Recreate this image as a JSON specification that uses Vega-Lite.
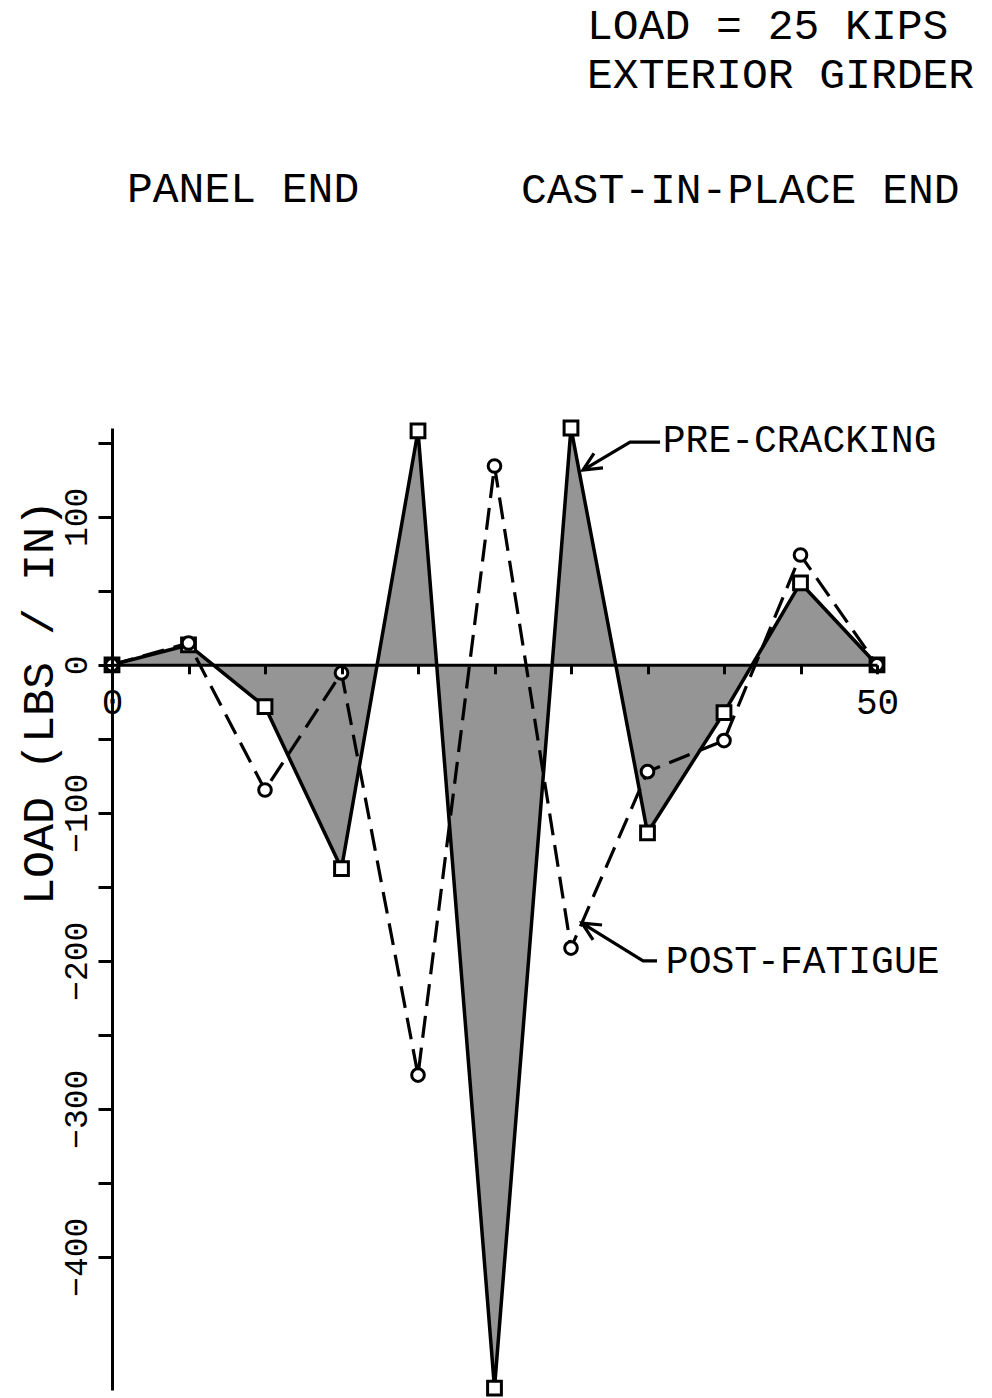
{
  "$schema": "https://vega.github.io/schema/vega-lite/v6.json",
  "width": 765,
  "height": 962,
  "autosize": {"type": "none"},
  "padding": {"left": 112, "top": 428, "right": 115, "bottom": 8},
  "background": "white",
  "config": {"view": {"stroke": null}, "font": "Liberation Mono"},
  "datasets": {
    "load": [
      {"series": "PRE-CRACKING", "x": 0, "y": 0},
      {"series": "PRE-CRACKING", "x": 5, "y": 13.4},
      {"series": "PRE-CRACKING", "x": 10, "y": -28.3},
      {"series": "PRE-CRACKING", "x": 15, "y": -137.7},
      {"series": "PRE-CRACKING", "x": 20, "y": 158},
      {"series": "PRE-CRACKING", "x": 25, "y": -488.7},
      {"series": "PRE-CRACKING", "x": 30, "y": 160},
      {"series": "PRE-CRACKING", "x": 35, "y": -113.5},
      {"series": "PRE-CRACKING", "x": 40, "y": -32.3},
      {"series": "PRE-CRACKING", "x": 45, "y": 55.3},
      {"series": "PRE-CRACKING", "x": 50, "y": 0},
      {"series": "POST-FATIGUE", "x": 0, "y": 0},
      {"series": "POST-FATIGUE", "x": 5, "y": 14.7},
      {"series": "POST-FATIGUE", "x": 10, "y": -84.6},
      {"series": "POST-FATIGUE", "x": 15, "y": -5.5},
      {"series": "POST-FATIGUE", "x": 20, "y": -277.2},
      {"series": "POST-FATIGUE", "x": 25, "y": 134.3},
      {"series": "POST-FATIGUE", "x": 30, "y": -191.4},
      {"series": "POST-FATIGUE", "x": 35, "y": -72.2},
      {"series": "POST-FATIGUE", "x": 40, "y": -51.2},
      {"series": "POST-FATIGUE", "x": 45, "y": 74.2},
      {"series": "POST-FATIGUE", "x": 50, "y": 0}
    ],
    "arrows": [
      {"arrow": "pre", "seq": 1, "x": 35.82, "y": 150.5},
      {"arrow": "pre", "seq": 2, "x": 33.86, "y": 150.5},
      {"arrow": "pre", "seq": 3, "x": 30.78, "y": 131.6},
      {"arrow": "pre", "seq": 4, "x": 32.09, "y": 133.0},
      {"arrow": "pre", "seq": 5, "x": 30.78, "y": 131.6},
      {"arrow": "pre", "seq": 6, "x": 31.5, "y": 142.8},
      {"arrow": "post", "seq": 1, "x": 35.62, "y": -200.1},
      {"arrow": "post", "seq": 2, "x": 34.71, "y": -200.1},
      {"arrow": "post", "seq": 3, "x": 30.72, "y": -174.5},
      {"arrow": "post", "seq": 4, "x": 32.03, "y": -175.8},
      {"arrow": "post", "seq": 5, "x": 30.72, "y": -174.5},
      {"arrow": "post", "seq": 6, "x": 31.44, "y": -185.9}
    ],
    "headers": [
      {"label": "LOAD = 25 KIPS", "x": 31.05, "y": 431.6},
      {"label": "EXTERIOR GIRDER", "x": 31.05, "y": 398.5},
      {"label": "PANEL END", "x": 0.98, "y": 321.5},
      {"label": "CAST-IN-PLACE END", "x": 26.73, "y": 320.8}
    ],
    "notes": [
      {"label": "PRE-CRACKING", "x": 36.0, "y": 151.2},
      {"label": "POST-FATIGUE", "x": 36.2, "y": -200.9}
    ]
  },
  "encoding": {
    "x": {
      "field": "x", "type": "quantitative",
      "scale": {"domain": [0, 50], "nice": false, "zero": false},
      "axis": {
        "title": null,
        "values": [0, 5, 10, 15, 20, 25, 30, 35, 40, 45, 50],
        "labelExpr": "datum.value === 0 || datum.value === 50 ? datum.label : ''",
        "offset": -725.2,
        "grid": false,
        "domainColor": "black", "domainWidth": 3,
        "tickColor": "black", "tickWidth": 3, "tickSize": 9,
        "labelFont": "Liberation Mono", "labelFontSize": 36, "labelColor": "black",
        "labelPadding": 12, "labelBaseline": "top", "labelAlign": "center",
        "labelFlush": false, "labelOverlap": false, "labelBound": false,
        "zindex": 1
      }
    },
    "y": {
      "field": "y", "type": "quantitative",
      "scale": {"domain": [-490, 160], "nice": false, "zero": false},
      "axis": {
        "title": "LOAD  (LBS / IN)",
        "values": [-400, -350, -300, -250, -200, -150, -100, -50, 0, 50, 100, 150],
        "labelExpr": "datum.value % 100 === 0 ? datum.label : ''",
        "grid": false,
        "domainColor": "black", "domainWidth": 3,
        "tickColor": "black", "tickWidth": 3, "tickSize": 14,
        "labelAngle": -90, "labelAlign": "center", "labelBaseline": "alphabetic",
        "labelPadding": 12,
        "labelFont": "Liberation Mono", "labelFontSize": 33, "labelColor": "black",
        "labelOverlap": false, "labelBound": false, "labelFlush": false,
        "titleFont": "Liberation Mono", "titleFontSize": 45, "titleFontWeight": "normal",
        "titleColor": "black", "titleAngle": -90, "titleAlign": "center",
        "titleBaseline": "alphabetic", "titleX": -60, "titleY": 274,
        "zindex": 1
      }
    }
  },
  "layer": [
    {
      "data": {"name": "load"},
      "transform": [{"filter": "datum.series === 'PRE-CRACKING'"}],
      "mark": {"type": "area", "color": "#959595", "opacity": 1}
    },
    {
      "data": {"name": "load"},
      "transform": [{"filter": "datum.series === 'PRE-CRACKING'"}],
      "mark": {"type": "line", "color": "black", "strokeWidth": 3.5}
    },
    {
      "data": {"name": "load"},
      "transform": [{"filter": "datum.series === 'POST-FATIGUE'"}],
      "mark": {"type": "line", "color": "black", "strokeWidth": 3.2, "strokeDash": [22, 10]}
    },
    {
      "data": {"name": "load"},
      "transform": [{"filter": "datum.series === 'PRE-CRACKING'"}],
      "mark": {"type": "point", "shape": "square", "size": 190, "filled": false, "fill": "white", "fillOpacity": 1, "stroke": "black", "strokeWidth": 3, "opacity": 1}
    },
    {
      "data": {"name": "load"},
      "transform": [{"filter": "datum.series === 'POST-FATIGUE'"}],
      "mark": {"type": "point", "shape": "circle", "size": 160, "filled": false, "fill": "white", "fillOpacity": 1, "stroke": "black", "strokeWidth": 3, "opacity": 1}
    },
    {
      "data": {"name": "arrows"},
      "mark": {"type": "line", "color": "black", "strokeWidth": 3.2, "strokeJoin": "miter"},
      "encoding": {
        "detail": {"field": "arrow"},
        "order": {"field": "seq", "type": "quantitative"}
      }
    },
    {
      "data": {"name": "headers"},
      "mark": {"type": "text", "align": "left", "baseline": "middle", "font": "Liberation Mono", "fontSize": 43, "color": "black"},
      "encoding": {
        "text": {"field": "label"}
      }
    },
    {
      "data": {"name": "notes"},
      "mark": {"type": "text", "align": "left", "baseline": "middle", "font": "Liberation Mono", "fontSize": 38, "color": "black"},
      "encoding": {
        "text": {"field": "label"}
      }
    }
  ]
}
